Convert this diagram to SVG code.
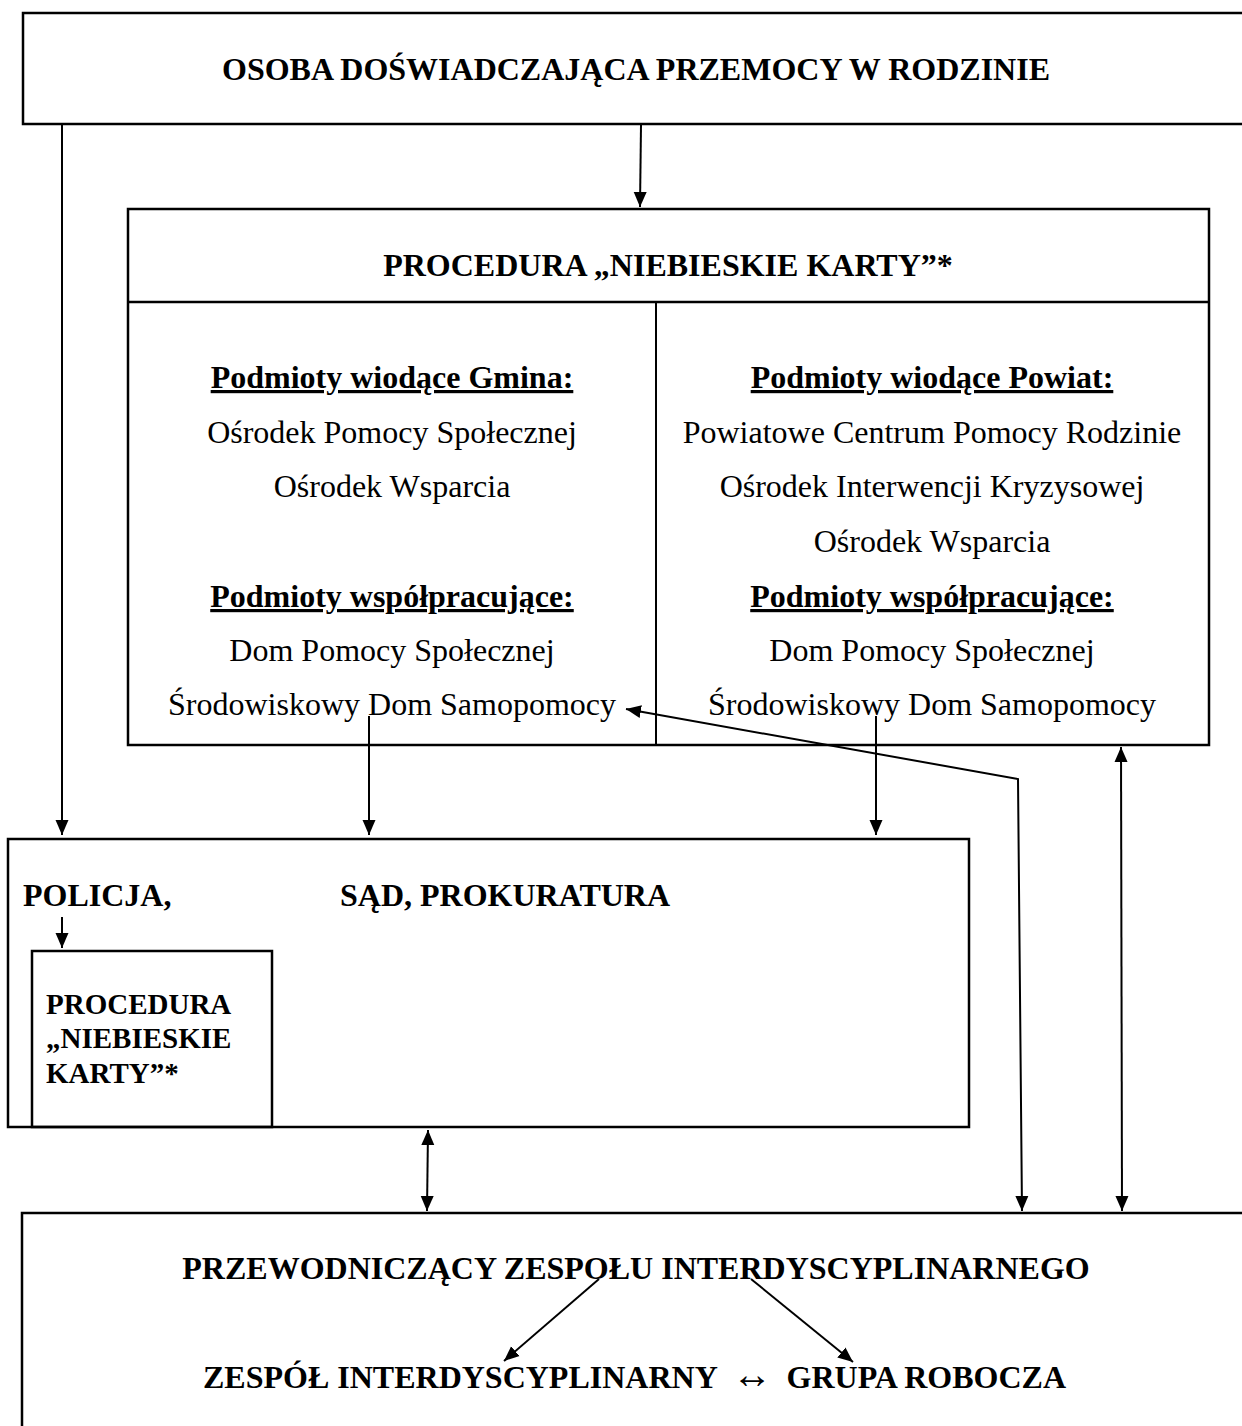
<svg xmlns="http://www.w3.org/2000/svg" width="1242" height="1426" viewBox="0 0 1242 1426">
<style>
.box{fill:none;stroke:#000;stroke-width:2.5}
.ln{fill:none;stroke:#000;stroke-width:2}
.t{font-family:"Liberation Serif","Times New Roman",serif;font-size:32px;fill:#000}
.b{font-weight:bold}
.c{text-anchor:middle}
.s{font-size:29px}
.u{text-decoration:underline}
</style>
<defs>
<marker id="ah" markerUnits="userSpaceOnUse" markerWidth="16" markerHeight="14" refX="15" refY="7" orient="auto-start-reverse">
<path d="M0,0.5 L15,7 L0,13.5 z" fill="#000"/>
</marker>
</defs>
<rect width="1242" height="1426" fill="#fff"/>

<g id="osoba">
<rect class="box" x="23" y="13" width="1240" height="111"/>
<text class="t b c" x="636" y="80">OSOBA DOŚWIADCZAJĄCA PRZEMOCY W RODZINIE</text>
</g>

<g id="procedura">
<rect class="box" x="128" y="209" width="1081" height="536"/>
<line class="box" x1="128" y1="302" x2="1209" y2="302"/>
<line class="ln" x1="656" y1="302" x2="656" y2="745"/>
<text class="t b c" x="668" y="276">PROCEDURA „NIEBIESKIE KARTY”*</text>
<g id="gmina">
<text class="t b c u" x="392" y="388">Podmioty wiodące Gmina:</text>
<text class="t c" x="392" y="443">Ośrodek Pomocy Społecznej</text>
<text class="t c" x="392" y="497">Ośrodek Wsparcia</text>
<text class="t b c u" x="392" y="607">Podmioty współpracujące:</text>
<text class="t c" x="392" y="661">Dom Pomocy Społecznej</text>
<text class="t c" x="392" y="715">Środowiskowy Dom Samopomocy</text>
</g>
<g id="powiat">
<text class="t b c u" x="932" y="388">Podmioty wiodące Powiat:</text>
<text class="t c" x="932" y="443">Powiatowe Centrum Pomocy Rodzinie</text>
<text class="t c" x="932" y="497">Ośrodek Interwencji Kryzysowej</text>
<text class="t c" x="932" y="552">Ośrodek Wsparcia</text>
<text class="t b c u" x="932" y="607">Podmioty współpracujące:</text>
<text class="t c" x="932" y="661">Dom Pomocy Społecznej</text>
<text class="t c" x="932" y="715">Środowiskowy Dom Samopomocy</text>
</g>
</g>

<g id="policja">
<rect class="box" x="8" y="839" width="961" height="288"/>
<text class="t b" x="23" y="906">POLICJA,</text>
<text class="t b" x="340" y="906">SĄD, PROKURATURA</text>
</g>

<g id="procedura-policja">
<rect class="box" x="32" y="951" width="240" height="176"/>
<text class="t b s" x="46" y="1014">PROCEDURA</text>
<text class="t b s" x="46" y="1048">„NIEBIESKIE</text>
<text class="t b s" x="46" y="1083">KARTY”*</text>
</g>

<g id="przewodniczacy">
<rect class="box" x="22" y="1213" width="1240" height="240"/>
<text class="t b c" x="636" y="1279">PRZEWODNICZĄCY ZESPOŁU INTERDYSCYPLINARNEGO</text>
<text class="t b" x="203" y="1388">ZESPÓŁ INTERDYSCYPLINARNY</text>
<text class="t c" x="752" y="1388" style="font-size:40px">↔</text>
<text class="t b" x="1066" y="1388" text-anchor="end">GRUPA ROBOCZA</text>
</g>

<g id="connectors">
<line class="ln" x1="641" y1="125" x2="640" y2="207" marker-end="url(#ah)"/>
<line class="ln" x1="62" y1="125" x2="62" y2="835" marker-end="url(#ah)"/>
<line class="ln" x1="369" y1="716" x2="369" y2="835" marker-end="url(#ah)"/>
<line class="ln" x1="876" y1="716" x2="876" y2="835" marker-end="url(#ah)"/>
<line class="ln" x1="62" y1="917" x2="62" y2="948" marker-end="url(#ah)"/>
<line class="ln" x1="428" y1="1130" x2="427" y2="1211" marker-start="url(#ah)" marker-end="url(#ah)"/>
<polyline class="ln" points="1022,1211 1018,779 626,709" marker-start="url(#ah)" marker-end="url(#ah)"/>
<line class="ln" x1="1122" y1="1211" x2="1121" y2="747" marker-start="url(#ah)" marker-end="url(#ah)"/>
<line class="ln" x1="599" y1="1279" x2="504" y2="1361" marker-end="url(#ah)"/>
<line class="ln" x1="751" y1="1279" x2="853" y2="1362" marker-end="url(#ah)"/>
</g>
</svg>
